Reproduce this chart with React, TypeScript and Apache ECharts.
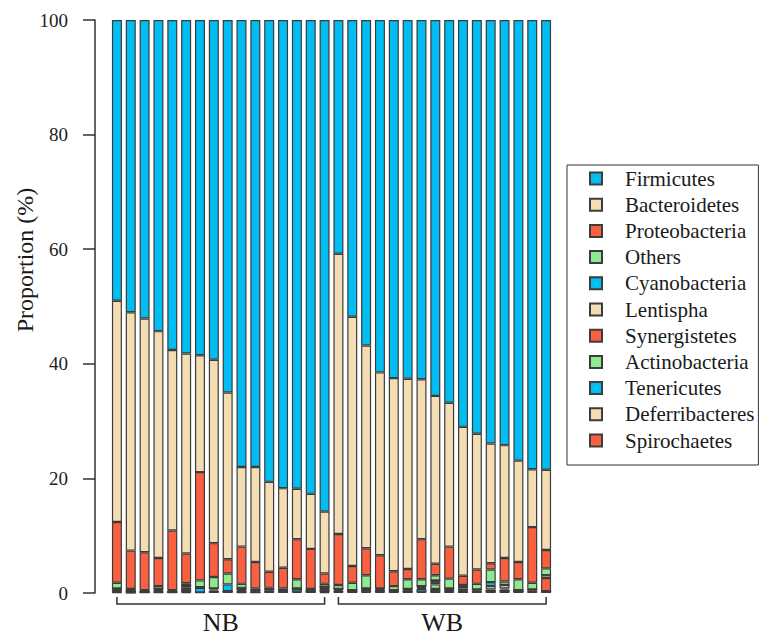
import React, { useEffect, useRef } from "react";
import * as echarts from "echarts";

const samples = [
  "NB1", "NB2", "NB3", "NB4", "NB5", "NB6", "NB7", "NB8", "NB9", "NB10", "NB11", "NB12", "NB13", "NB14", "NB15", "NB16",
  "WB1", "WB2", "WB3", "WB4", "WB5", "WB6", "WB7", "WB8", "WB9", "WB10", "WB11", "WB12", "WB13", "WB14", "WB15", "WB16",
];

const firmicutes = [49.0, 51.0, 52.1, 54.3, 57.6, 58.2, 58.5, 59.3, 65.0, 78.0, 78.0, 80.6, 81.7, 81.8, 82.7, 85.8,
  40.8, 51.8, 56.8, 61.5, 62.5, 62.6, 62.7, 65.6, 66.8, 71.0, 72.2, 73.9, 74.2, 76.9, 78.4, 78.5];
const bacteroidetes = [38.6, 41.6, 40.8, 39.6, 31.5, 34.9, 20.4, 32.0, 29.1, 13.9, 16.6, 15.7, 13.9, 8.8, 9.6, 10.8,
  48.9, 43.5, 35.4, 31.9, 33.7, 33.2, 27.9, 29.3, 25.1, 26.0, 23.7, 20.9, 19.7, 17.7, 10.1, 14.0];
const proteobacteria = [10.6, 6.7, 6.6, 4.9, 10.4, 5.2, 18.9, 5.9, 2.5, 6.5, 4.6, 2.8, 3.6, 7.0, 7.0, 1.8,
  8.9, 2.9, 4.7, 5.8, 2.6, 1.8, 7.0, 2.0, 5.6, 1.6, 2.5, 1.1, 4.1, 3.0, 9.7, 3.2];
const others = [1.0, 0.4, 0.2, 0.5, 0.2, 0.4, 1.2, 2.0, 1.9, 0.7, 0.4, 0.3, 0.3, 1.6, 0.3, 0.5,
  0.7, 1.3, 2.3, 0.1, 0.7, 1.7, 1.2, 0.9, 1.7, 0.3, 1.0, 2.2, 0.6, 1.9, 1.2, 1.2];
const cyanobacteria = [0, 0, 0, 0, 0, 0, 0, 0, 1.2, 0, 0, 0, 0, 0, 0, 0,
  0, 0, 0, 0.2, 0, 0, 0, 0, 0, 0, 0, 0.7, 0, 0, 0, 0];
const lentispha = [0.1, 0, 0, 0.2, 0, 0.3, 0, 0.2, 0, 0.4, 0, 0, 0, 0, 0, 0.3,
  0, 0, 0, 0, 0, 0, 0.2, 0.3, 0.3, 0.3, 0, 0.6, 0.6, 0, 0, 0.5];
const synergistetes = [0.1, 0.1, 0.1, 0.1, 0.1, 0.3, 0.1, 0.2, 0.1, 0.2, 0.1, 0.2, 0.2, 0.1, 0.2, 0.1,
  0.2, 0.1, 0.1, 0.2, 0.2, 0.2, 0.1, 0.4, 0.1, 0.3, 0.2, 0.2, 0.2, 0.2, 0.2, 2.3];
const actinobacteria = [0.3, 0.1, 0.1, 0.2, 0.1, 0.3, 0, 0.2, 0, 0.1, 0.2, 0.2, 0.1, 0, 0, 0.4,
  0.2, 0.1, 0.1, 0, 0.1, 0.2, 0.2, 0.8, 0.2, 0.2, 0.2, 0, 0.2, 0, 0.2, 0];
const tenericutes = [0.1, 0, 0, 0, 0, 0, 0.8, 0, 0, 0, 0, 0, 0, 0.5, 0, 0,
  0.1, 0, 0.4, 0.1, 0, 0, 0.5, 0.3, 0, 0, 0, 0, 0, 0, 0, 0];
const deferribacteres = [0.1, 0.1, 0, 0.1, 0, 0.3, 0, 0, 0, 0.1, 0, 0, 0, 0, 0, 0.2,
  0, 0, 0, 0, 0, 0, 0, 0, 0, 0, 0, 0, 0, 0, 0, 0];
const spirochaetes = [0.1, 0, 0.1, 0.1, 0.1, 0.1, 0.1, 0.2, 0.2, 0.1, 0.1, 0.2, 0.2, 0.2, 0.2, 0.1,
  0.2, 0.3, 0.2, 0.2, 0.2, 0.3, 0.2, 0.4, 0.2, 0.3, 0.2, 0.4, 0.4, 0.3, 0.2, 0.3];

const legendOrder = [
  "Firmicutes", "Bacteroidetes", "Proteobacteria", "Others", "Cyanobacteria", "Lentispha",
  "Synergistetes", "Actinobacteria", "Tenericutes", "Deferribacteres", "Spirochaetes",
];

const groups = [
  { name: "NB", first: "NB1", last: "NB16" },
  { name: "WB", first: "WB1", last: "WB16" },
];

const yTicks = { min: 0, max: 100, interval: 20 };

const BLUE = "#00BEF2";
const TAN = "#F5DDB3";
const RED = "#F8603F";
const GREEN = "#8EEA8E";
const FONT = "Liberation Serif";

export default function App() {
  const ref = useRef<HTMLDivElement>(null);
  useEffect(() => {
    const chart = echarts.init(ref.current!, null, { renderer: "svg" });
    const stack = [
      { name: "Spirochaetes", data: spirochaetes, color: RED },
      { name: "Deferribacteres", data: deferribacteres, color: TAN },
      { name: "Tenericutes", data: tenericutes, color: BLUE },
      { name: "Actinobacteria", data: actinobacteria, color: GREEN },
      { name: "Synergistetes", data: synergistetes, color: RED },
      { name: "Lentispha", data: lentispha, color: TAN },
      { name: "Cyanobacteria", data: cyanobacteria, color: BLUE },
      { name: "Others", data: others, color: GREEN },
      { name: "Proteobacteria", data: proteobacteria, color: RED },
      { name: "Bacteroidetes", data: bacteroidetes, color: TAN },
      { name: "Firmicutes", data: firmicutes, color: BLUE },
    ];
    chart.setOption({
      animation: false,
      grid: { left: 110, right: 207, top: 20, bottom: 42, containLabel: false },
      legend: {
        data: legendOrder,
        orient: "vertical",
        left: 567,
        top: 165,
        padding: [3, 4, 14, 22],
        itemWidth: 12,
        itemHeight: 12,
        itemGap: 5.2,
        icon: "rect",
        borderColor: "#333",
        borderWidth: 1,
        borderRadius: 0,
        selectedMode: false,
        textStyle: {
          fontFamily: FONT,
          fontSize: 21,
          color: "#1a1a1a",
          lineHeight: 21,
          padding: [0, 0, 0, 18],
        },
      },
      xAxis: {
        type: "category",
        data: samples,
        axisLine: { show: false },
        axisTick: { show: false },
        axisLabel: { show: false },
      },
      yAxis: {
        type: "value",
        min: yTicks.min,
        max: yTicks.max,
        interval: yTicks.interval,
        offset: 15,
        splitLine: { show: false },
        axisLine: { show: true, lineStyle: { color: "#333", width: 1.5 } },
        axisTick: { show: true, length: 12, lineStyle: { color: "#333", width: 1.5 } },
        axisLabel: { fontFamily: FONT, fontSize: 19, color: "#222", margin: 27 },
      },
      series: stack.map((s) => ({
        name: s.name,
        type: "bar",
        stack: "total",
        data: s.data,
        barWidth: 10,
        itemStyle: { color: s.color, borderColor: "#3c3c3c", borderWidth: 1.2 },
      })),
    });

    const y0 = chart.convertToPixel({ yAxisIndex: 0 }, 0) as number;
    const graphics: any[] = [
      {
        type: "text",
        x: 25,
        y: 260,
        rotation: Math.PI / 2,
        style: {
          text: "Proportion (%)",
          fontFamily: FONT,
          fontSize: 24,
          fill: "#1a1a1a",
          align: "center",
          verticalAlign: "middle",
        },
      },
    ];
    groups.forEach((g) => {
      const x1 = chart.convertToPixel({ xAxisIndex: 0 }, g.first) as number;
      const x2 = chart.convertToPixel({ xAxisIndex: 0 }, g.last) as number;
      const yb = y0 + 11;
      graphics.push({
        type: "polyline",
        shape: { points: [[x1, yb - 7], [x1, yb], [x2, yb], [x2, yb - 7]] },
        style: { stroke: "#333", lineWidth: 1.5, fill: "none" },
      });
      graphics.push({
        type: "text",
        x: (x1 + x2) / 2,
        y: yb + 5,
        style: {
          text: g.name,
          fontFamily: FONT,
          fontSize: 26,
          fill: "#1a1a1a",
          align: "center",
          verticalAlign: "top",
        },
      });
    });
    chart.setOption({ graphic: graphics });

    return () => chart.dispose();
  }, []);
  return (
    <div
      ref={ref}
      style={{ position: "absolute", left: 0, top: 0, width: 760, height: 635 }}
    />
  );
}
